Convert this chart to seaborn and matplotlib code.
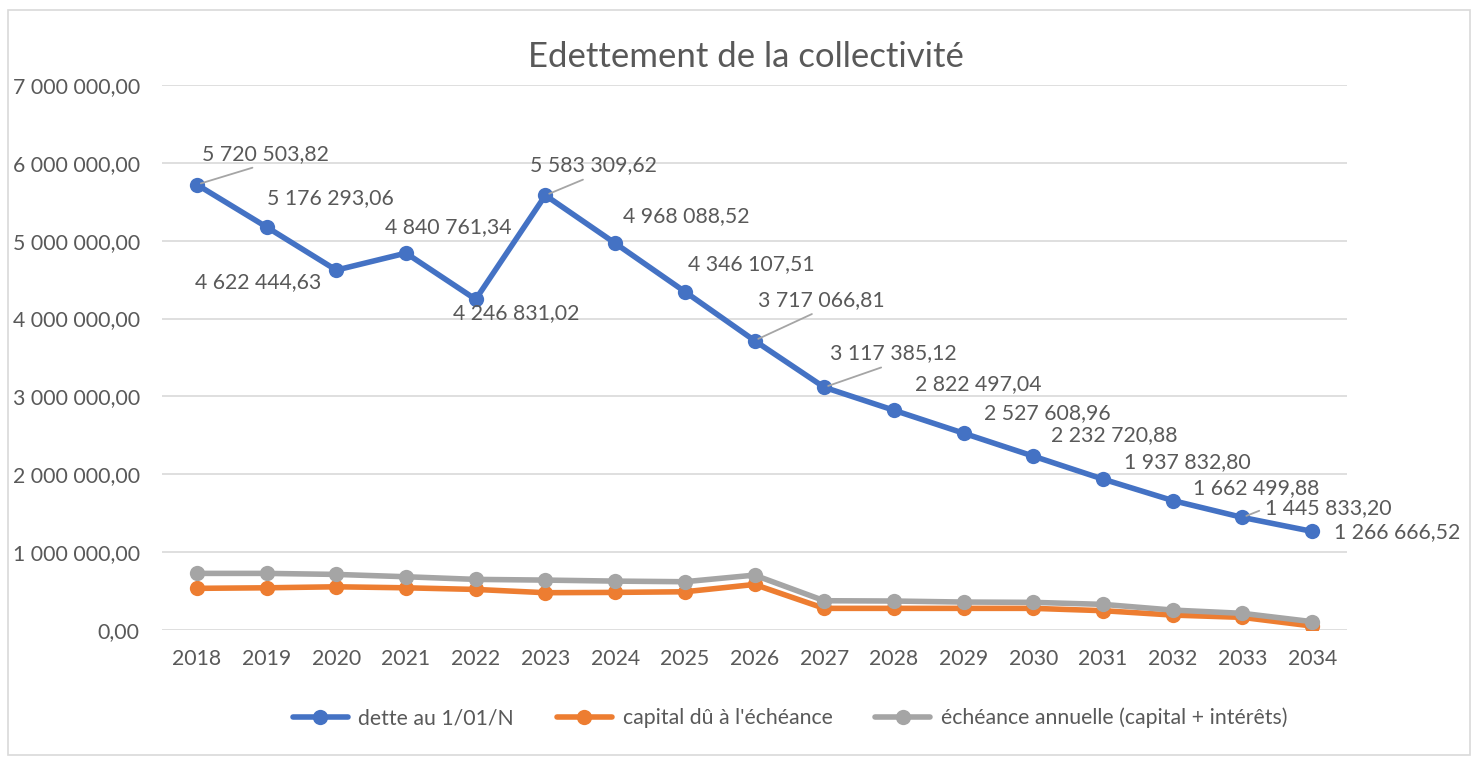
import matplotlib
matplotlib.use("Agg")
import matplotlib.pyplot as plt
from matplotlib.patches import Rectangle
from matplotlib.ticker import FuncFormatter
import numpy as np
import pandas as pd
import seaborn as sns

# --- données du graphique ---
annees = list(range(2018, 2035))
dette = [5720503.82, 5176293.06, 4622444.63, 4840761.34, 4246831.02, 5583309.62,
         4968088.52, 4346107.51, 3717066.81, 3117385.12, 2822497.04, 2527608.96,
         2232720.88, 1937832.80, 1662499.88, 1445833.20, 1266666.52]
capital = [535000, 542000, 555000, 542000, 521000, 479000, 483000, 491000, 585000,
           278000, 278000, 278000, 278000, 248000, 192000, 162000, 51000]
echeance = [727000, 727000, 714000, 684000, 650000, 641000, 628000, 620000, 705000,
            376000, 372000, 359000, 355000, 329000, 256000, 214000, 107000]
series = ["dette au 1/01/N", "capital dû à l'échéance",
          "échéance annuelle (capital + intérêts)"]
couleurs = ["#4472c4", "#ed7d31", "#a5a5a5"]

# décalage des étiquettes (pixels, y vers le haut) et ligne de rappel éventuelle
decalages = [(69, 31), (64, 29), (-78, -12), (42, 26), (41, -14), (48, 30), (71, 27),
             (67, 28), (67, 41), (69, 34), (84, 26), (84, 20), (81, 21), (84, 17),
             (83, 12), (86, 9), (85, -1)]
rappels = {0: (0.5, 0), 5: (0.5, 0), 8: (0.5, 0), 9: (0.5, 0), 15: (0.0, 0.5)}

df = pd.DataFrame({
    "annee": annees * 3,
    "valeur": dette + capital + echeance,
    "serie": [s for s in series for _ in annees],
})

sns.set_theme(style="white")
plt.rcParams["font.family"] = ["Lato", "DejaVu Sans"]
gris_txt = "#595959"
taille = 15.3

fig = plt.figure(figsize=(14.75, 7.58), dpi=100)
ax = fig.add_axes([162 / 1475, 1 - 630 / 758, (1347 - 162) / 1475, (630 - 85) / 758])

sns.lineplot(data=df, x="annee", y="valeur", hue="serie", hue_order=series,
             palette=couleurs, marker="o", markersize=11, markeredgewidth=0,
             linewidth=4, ax=ax, legend=False, zorder=3)
# la dette par-dessus
for ln in ax.lines:
    if ln.get_color() == couleurs[0]:
        ln.set_zorder(5)

ax.set_xlim(2017.5, 2034.5)
ax.set_ylim(0, 7000000)
ax.set_xticks(annees)
ax.set_xticklabels([str(a) for a in annees])
ax.set_yticks(np.arange(0, 7000001, 1000000))
ax.yaxis.set_major_formatter(FuncFormatter(
    lambda v, p: f"{v:,.2f}".replace(",", " ").replace(".", ",")))
ax.tick_params(axis="both", length=0, labelsize=taille, labelcolor=gris_txt)
ax.tick_params(axis="y", pad=16)
ax.tick_params(axis="x", pad=14)
ax.grid(axis="y", color="#d9d9d9", linewidth=1.2)
ax.set_axisbelow(True)
for sp in ax.spines.values():
    sp.set_visible(False)
ax.set_xlabel("")
ax.set_ylabel("")

px = 72 / 100
for i, (a, v) in enumerate(zip(annees, dette)):
    dx, dy = decalages[i]
    txt = f"{v:,.2f}".replace(",", " ").replace(".", ",")
    props = None
    if i in rappels:
        props = dict(arrowstyle="-", color="#a5a5a5", lw=1.3, shrinkA=2, shrinkB=3,
                     relpos=rappels[i])
    ax.annotate(txt, (a, v), xytext=(dx * px, dy * px), textcoords="offset points",
                ha="center", va="center", fontsize=taille, color=gris_txt,
                arrowprops=props, zorder=6)

fig.text(746 / 1475, 1 - 57 / 758, "Edettement de la collectivité", ha="center",
         va="center", fontsize=25, color=gris_txt)

handles = [plt.Line2D([], [], color=c, marker="o", markersize=11, linewidth=4,
                      markeredgewidth=0) for c in couleurs]
fig.legend(handles, series, loc="center", bbox_to_anchor=(790 / 1475, 1 - 718 / 758),
           ncol=3, frameon=False, fontsize=taille, labelcolor=gris_txt,
           handlelength=2.6, columnspacing=2.0, handletextpad=0.5)

fig.patches.append(Rectangle((8 / 1475, 3 / 758), 1462 / 1475, 745 / 758,
                             transform=fig.transFigure, fill=False,
                             edgecolor="#d9d9d9", linewidth=1.2))

fig.savefig("out.png", dpi=100, facecolor="white")
